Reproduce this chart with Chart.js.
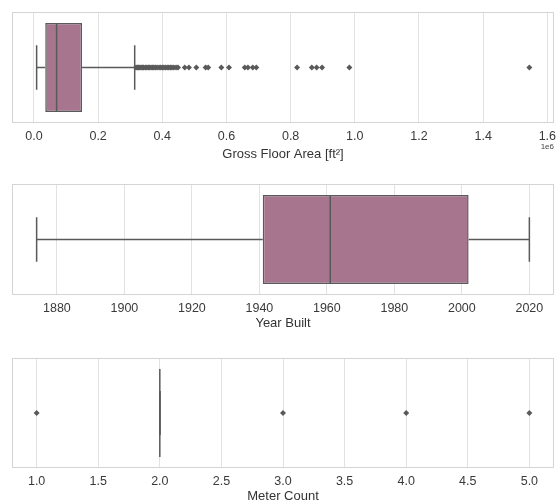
<!DOCTYPE html>
<html>
<head>
<meta charset="utf-8">
<script src="https://cdn.jsdelivr.net/npm/chart.js@4.4.1/dist/chart.umd.min.js"></script>
<style>
  html, body { margin: 0; padding: 0; background: #fff; width: 557px; height: 501px; overflow: hidden; }
  .panel { position: absolute; left: 0; width: 557px; }
</style>
</head>
<body>
<div class="panel" id="p1" style="top:0px;height:165px"><canvas id="c1"></canvas></div>
<div class="panel" id="p2" style="top:172px;height:165px"><canvas id="c2"></canvas></div>
<div class="panel" id="p3" style="top:345px;height:165px"><canvas id="c3"></canvas></div>
<script>
// box stats: [lower whisker, q1, median, q3, upper whisker]
var areaBox = [8400, 35200, 70600, 150000, 314000];
var areaOutliers = [318000, 322000, 326000, 330000, 334000, 338000, 342000, 347000, 352000, 356000,
  360000, 365000, 370000, 374000, 379000, 384000, 390000, 395000, 400000, 405000, 410000, 415000,
  420000, 425000, 430000, 436000, 443000, 449000, 470000, 483000, 506000, 535000, 543000, 584000,
  608000, 657000, 667000, 682000, 693000, 820000, 866000, 881000, 898000, 983000, 1544000];
var areaTicks = [0, 200000, 400000, 600000, 800000, 1000000, 1200000, 1400000, 1600000];

var yearBox = [1874, 1941, 1961, 2002, 2020];
var yearOutliers = [];
var yearTicks = [1880, 1900, 1920, 1940, 1960, 1980, 2000, 2020];

var meterBox = [2, 2, 2, 2, 2];
var meterOutliers = [1, 3, 4, 5];
var meterTicks = [1, 1.5, 2, 2.5, 3, 3.5, 4, 4.5, 5];

var boxFill = '#a8758f';
var lineGray = '#5a5a5a';
var font = "'Liberation Sans', Arial, sans-serif";

// frame around the plot area, like the seaborn whitegrid spines
var framePlugin = {
  id: 'frame',
  beforeDatasetsDraw: function(chart) {
    var a = chart.chartArea, ctx = chart.ctx;
    ctx.save();
    ctx.strokeStyle = '#d4d4d4';
    ctx.lineWidth = 1;
    ctx.strokeRect(Math.round(a.left) + 0.5, Math.round(a.top) + 0.5,
      Math.round(a.right - a.left) - 1, Math.round(a.bottom - a.top) - 1);
    ctx.restore();
  }
};

// matplotlib style offset text ("1e6") under the right end of the axis
var offsetPlugin = {
  id: 'offsetText',
  afterDraw: function(chart, args, opts) {
    if (!opts || !opts.text) return;
    var a = chart.chartArea, ctx = chart.ctx;
    ctx.save();
    ctx.font = '8px ' + font;
    ctx.fillStyle = '#444';
    ctx.textAlign = 'right';
    ctx.textBaseline = 'middle';
    ctx.fillText(opts.text, a.right, a.bottom + 24);
    ctx.restore();
  }
};

function makePanel(id, box, outliers, ticks, label, lay, offsetText) {
  var lo = box[0], hi = box[4];
  var all = outliers.concat([lo, hi]);
  var dmin = Math.min.apply(null, all), dmax = Math.max.apply(null, all);
  var pad = (dmax - dmin) * 0.05;

  var datasets = [
    { // median
      type: 'scatter', data: [{x: box[2], y: 0}], pointStyle: 'line', rotation: 90,
      pointRadius: function(c) { return c.chart.chartArea ? (c.chart.chartArea.bottom - c.chart.chartArea.top) * 0.4 : 40; },
      borderColor: lineGray, pointBorderColor: lineGray, pointBorderWidth: 1.5, order: 1
    },
    { // whisker caps
      type: 'scatter', data: [{x: lo, y: 0}, {x: hi, y: 0}], pointStyle: 'line', rotation: 90,
      pointRadius: function(c) { return c.chart.chartArea ? (c.chart.chartArea.bottom - c.chart.chartArea.top) * 0.2 : 20; },
      borderColor: lineGray, pointBorderColor: lineGray, pointBorderWidth: 1.5, order: 2
    },
    { // outliers
      type: 'scatter', data: outliers.map(function(v) { return {x: v, y: 0}; }),
      pointStyle: 'rectRot', pointRadius: 3, backgroundColor: lineGray,
      pointBackgroundColor: lineGray, pointBorderWidth: 0, order: 3
    },
    { // lower whisker
      type: 'line', data: [{x: lo, y: 0}, {x: box[1], y: 0}], borderColor: lineGray,
      borderWidth: 1.5, pointRadius: 0, fill: false, order: 4
    },
    { // upper whisker
      type: 'line', data: [{x: box[3], y: 0}, {x: hi, y: 0}], borderColor: lineGray,
      borderWidth: 1.5, pointRadius: 0, fill: false, order: 4
    },
    { // box
      type: 'bar', data: [[box[1], box[3]]], backgroundColor: boxFill, borderColor: lineGray,
      borderWidth: 1.5, borderSkipped: false, barPercentage: 0.8, categoryPercentage: 1, order: 5
    }
  ];

  return new Chart(document.getElementById(id), {
    type: 'bar',
    data: { labels: [''], datasets: datasets },
    plugins: [framePlugin, offsetPlugin],
    options: {
      indexAxis: 'y',
      responsive: true,
      maintainAspectRatio: false,
      animation: false,
      layout: { autoPadding: false, padding: { top: lay.top, left: 12, right: 3, bottom: 0 } },
      plugins: {
        legend: { display: false },
        tooltip: { enabled: false },
        offsetText: { text: offsetText || '' }
      },
      scales: {
        y: { type: 'category', display: false, offset: true },
        x: {
          type: 'linear',
          min: dmin - pad,
          max: dmax + pad,
          afterBuildTicks: function(scale) {
            scale.ticks = ticks.map(function(v) { return {value: v}; });
          },
          afterFit: function(scale) {
            scale.height = lay.axis;
            scale.paddingLeft = 0;
            scale.paddingRight = 0;
          },
          grid: { color: '#e2e2e2', lineWidth: 1, drawTicks: false },
          border: { display: false },
          ticks: {
            padding: 6,
            color: '#3a3a3a',
            font: { family: font, size: 12.5 },
            maxRotation: 0,
            autoSkip: false,
            callback: lay.fmt
          },
          title: {
            display: true,
            text: label,
            color: '#333',
            font: { family: font, size: 13 },
            padding: { top: 0, bottom: lay.titlePad }
          }
        }
      }
    }
  });
}

makePanel('c1', areaBox, areaOutliers, areaTicks, 'Gross Floor Area [ft\u00b2]',
  { top: 12, axis: 42, titlePad: 3, fmt: function(v) { return (v / 1e6).toFixed(1); } }, '1e6');
makePanel('c2', yearBox, yearOutliers, yearTicks, 'Year Built',
  { top: 12, axis: 42, titlePad: 6, fmt: function(v) { return String(v); } });
makePanel('c3', meterBox, meterOutliers, meterTicks, 'Meter Count',
  { top: 13, axis: 42, titlePad: 6, fmt: function(v) { return v.toFixed(1); } });
</script>
</body>
</html>
